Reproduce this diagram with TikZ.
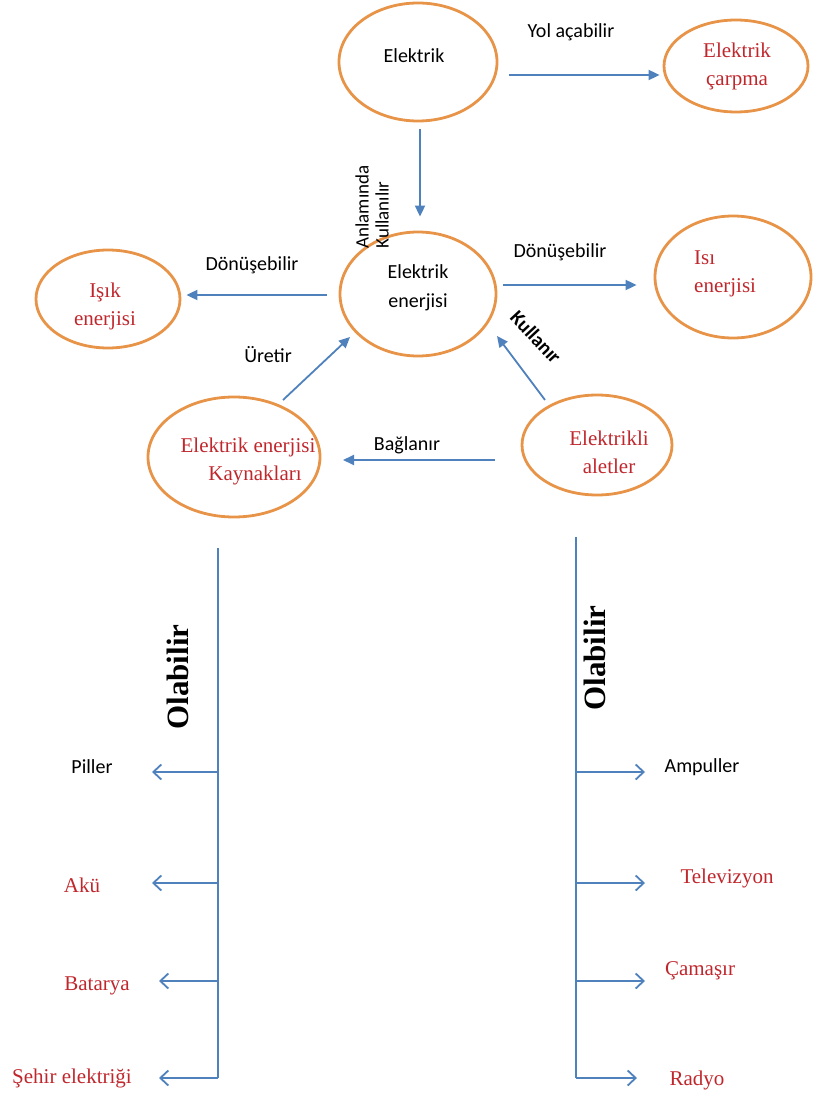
\documentclass[tikz,border=0pt]{standalone}
\usepackage{fontspec}
\setmainfont{Liberation Serif}
\setsansfont{Carlito}
\usetikzlibrary{arrows.meta,shapes.geometric}

\definecolor{ringorange}{RGB}{231,148,72}
\definecolor{linkblue}{RGB}{79,129,189}
\definecolor{termred}{RGB}{192,39,45}

\tikzset{
  concept/.style={ellipse, draw=ringorange, line width=2.8pt, inner sep=0pt},
  sanstxt/.style={font=\sffamily\fontsize{20}{29}\selectfont, align=center, inner sep=0pt},
  redtxt/.style={text=termred, font=\fontsize{21}{28}\selectfont, align=center, inner sep=0pt},
  boldserif/.style={font=\bfseries\fontsize{31}{34}\selectfont, inner sep=0pt},
  link/.style={draw=linkblue, line width=1.8pt, -{Triangle[length=11pt,width=10pt]}},
  branch/.style={draw=linkblue, line width=1.8pt, -{Straight Barb[length=8pt,width=15pt,line width=1.8pt]}},
  trunk/.style={draw=linkblue, line width=1.8pt}
}

\begin{document}
\begin{tikzpicture}[x=1pt,y=1pt]
\useasboundingbox (0,0) rectangle (817,-1099);

% concept ellipses
\node[concept, minimum width=158, minimum height=118] (el)   at (418,-62)  {};
\node[concept, minimum width=144, minimum height=92]  (carp) at (736,-66)  {};
\node[concept, minimum width=156, minimum height=124] (ee)   at (418,-294) {};
\node[concept, minimum width=144, minimum height=98]  (isik) at (108,-299) {};
\node[concept, minimum width=156, minimum height=122] (isi)  at (733,-277) {};
\node[concept, minimum width=172, minimum height=120] (src)  at (234,-457) {};
\node[concept, minimum width=150, minimum height=100] (alet) at (597,-445) {};

% texts inside the ellipses
\node[sanstxt] (elT)   at (414,-56)  {Elektrik};
\node[redtxt]  (carpT) at (737,-66)  {Elektrik\\çarpma};
\node[sanstxt] (eeT)   at (418,-288) {Elektrik\\enerjisi};
\node[redtxt]  (isikT) at (105,-306) {Işık\\enerjisi};
\node[redtxt, align=left, anchor=west] (isiT) at (694,-274) {Isı\\enerjisi};
\node[redtxt]  (srcT)  at (248,-461) {Elektrik enerjisi\\\hspace*{14pt}Kaynakları};
\node[redtxt]  (aletT) at (609,-452) {Elektrikli\\aletler};

% connectors between the concepts
\draw[link] ([shift={(11,-13)}]el.east) -- ([shift={(-3,-9)}]carp.west);
\draw[link] ([shift={(2,-7)}]el.south) -- ([shift={(2,14)}]ee.north);
\draw[link] ([shift={(-12,-1)}]ee.west) -- ([shift={(5,4)}]isik.east);
\draw[link] ([shift={(6,9)}]ee.east) -- ([shift={(-17,-8)}]isi.west);
\draw[link] ([shift={(49,57)}]src.center) -- ([shift={(-68,-43)}]ee.center);
\draw[link] ([shift={(-52,45)}]alet.center) -- ([shift={(79,-42)}]ee.center);
\draw[link] ([shift={(-102,-15)}]alet.center) -- ([shift={(109,-3)}]src.center);

% connector labels
\node[sanstxt] (lYol)  at (571,-32)  {Yol açabilir};
\node[sanstxt] (lDonL) at (252,-265) {Dönüşebilir};
\node[sanstxt] (lDonR) at (560,-252) {Dönüşebilir};
\node[sanstxt] (lUre)  at (268,-355) {Üretir};
\node[sanstxt] (lBag)  at (407,-445) {Bağlanır};
\node[sanstxt, font=\sffamily\fontsize{19}{20}\selectfont, align=left, rotate=90] (lAnl) at (372,-207) {Anlamında\\Kullanılır};
\node[sanstxt, font=\sffamily\bfseries\fontsize{20}{24}\selectfont, rotate=-47] (lKul) at (536,-337) {Kullanır};

% left tree: energy sources
\coordinate (lTop) at (218,-548);
\coordinate (lB1) at (218,-772);  \coordinate (lE1) at (152,-772);
\coordinate (lB2) at (218,-883);  \coordinate (lE2) at (152,-883);
\coordinate (lB3) at (218,-981);  \coordinate (lE3) at (159,-981);
\coordinate (lB4) at (218,-1078); \coordinate (lE4) at (159,-1078);
\draw[trunk] (lTop) -- (lB4);
\draw[branch] (lB1) -- (lE1);
\draw[branch] (lB2) -- (lE2);
\draw[branch] (lB3) -- (lE3);
\draw[branch] (lB4) -- (lE4);
\node[boldserif, rotate=90] (olL) at (178,-677) {Olabilir};
\node[sanstxt] (piller) at (92,-767)  {Piller};
\node[redtxt]  (aku)    at (82,-885)  {Akü};
\node[redtxt]  (batar)  at (97,-986)  {Batarya};
\node[redtxt]  (sehir)  at (72,-1078) {Şehir elektriği};

% right tree: electrical appliances
\coordinate (rTop) at (576,-537);
\coordinate (rB1) at (576,-772);  \coordinate (rE1) at (645,-772);
\coordinate (rB2) at (576,-883);  \coordinate (rE2) at (645,-883);
\coordinate (rB3) at (576,-981);  \coordinate (rE3) at (645,-981);
\coordinate (rB4) at (576,-1078); \coordinate (rE4) at (637,-1078);
\draw[trunk] (rTop) -- (rB4);
\draw[branch] (rB1) -- (rE1);
\draw[branch] (rB2) -- (rE2);
\draw[branch] (rB3) -- (rE3);
\draw[branch] (rB4) -- (rE4);
\node[boldserif, rotate=90] (olR) at (595,-658) {Olabilir};
\node[sanstxt] (ampul) at (702,-767)  {Ampuller};
\node[redtxt]  (tv)    at (727,-878)  {Televizyon};
\node[redtxt]  (camas) at (700,-971)  {Çamaşır};
\node[redtxt]  (radyo) at (697,-1080) {Radyo};
\end{tikzpicture}
\end{document}
